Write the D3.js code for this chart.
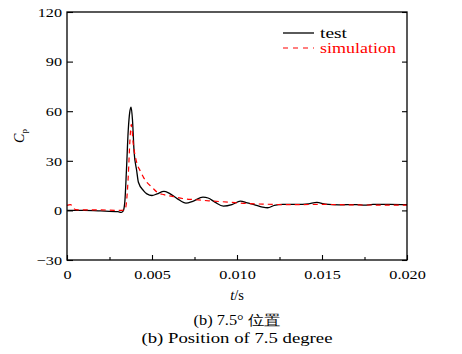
<!DOCTYPE html>
<html>

<head>
  <meta charset='utf-8'>
  <style>
    body { margin: 0; background: #fff; }
    text { font-family: "Liberation Serif", serif; }
  </style>
  <script src='https://cdn.jsdelivr.net/npm/d3@7'></script>
</head>

<body>

  <script>
    // values (t in s, Cp)
    const testT = [0, 0.001, 0.002, 0.003, 0.0032, 0.0033, 0.0034, 0.0035, 0.0036, 0.0037, 0.00377, 0.00385, 0.00395,
      0.0041, 0.0042, 0.0045, 0.0047, 0.005, 0.0053, 0.0057, 0.006, 0.0065, 0.007, 0.0074, 0.008, 0.0083, 0.0087,
      0.0092, 0.0097, 0.0102, 0.0106, 0.011, 0.0115, 0.0118, 0.0122, 0.0127, 0.0135, 0.0142, 0.0147, 0.0152,
      0.016, 0.017, 0.0175, 0.018, 0.019, 0.02]
    const testCp = [0, 0, -0.3, -0.8, -1.2, -0.5, 5, 25, 48, 60, 62.5, 55, 35,
      24, 17, 12, 10, 9, 10, 11.5, 10.5, 7, 4.4, 5.5, 8, 7.5, 5,
      2.6, 3.5, 5.6, 4.5, 3.5, 2, 1.6, 3, 3.6, 3.6, 4, 4.8, 3.8,
      3.4, 3.5, 3.2, 3.6, 3.7, 3.5]

    const simT = [0, 0.0002, 0.0005, 0.001, 0.002, 0.003, 0.0034, 0.0035, 0.0036, 0.0037, 0.00378, 0.0039, 0.0041,
      0.0043, 0.0045, 0.0047, 0.005, 0.0053, 0.0057, 0.0062, 0.0068, 0.0075, 0.0085, 0.0095, 0.0105, 0.0115,
      0.013, 0.015, 0.017, 0.02]
    const simCp = [3, 3.5, 0.5, 0.3, 0.3, 0, 0.2, 5, 20, 42, 52, 40, 29,
      24, 20, 17, 14, 11, 9.5, 8.5, 7.2, 6.5, 5.7, 5, 4.2, 3.8,
      3.5, 3.6, 3.3, 3.2]

    const xTicks = [0, 0.005, 0.010, 0.015, 0.020]
    const xTickLabels = ["0", "0.005", "0.010", "0.015", "0.020"]
    const xMinor = [0.0025, 0.0075, 0.0125, 0.0175]
    const yTicks = [-30, 0, 30, 60, 90, 120]
    const seriesNames = ["test", "simulation"]

    const width = 462, height = 354
    const margin = { left: 67, right: 55, top: 12, bottom: 94 }

    const svg = d3.select("body").append("svg")
      .attr("width", width)
      .attr("height", height)

    const x = d3.scaleLinear([0, 0.02], [margin.left, width - margin.right])
    const y = d3.scaleLinear([-30, 120], [height - margin.bottom, margin.top])

    const line = d3.line()
      .x(d => x(d[0]))
      .y(d => y(d[1]))
      .curve(d3.curveMonotoneX)

    // widen glyphs a bit, the original font is broad
    function stretch(sel, k) {
      sel.each(function () {
        const w = this.getComputedTextLength()
        d3.select(this).attr("textLength", w * k).attr("lengthAdjust", "spacingAndGlyphs")
      })
    }

    const plot = svg.append("g")

    plot.append("path")
      .datum(d3.zip(testT, testCp))
      .attr("fill", "none")
      .attr("stroke", "#000")
      .attr("stroke-width", 1.3)
      .attr("d", line)

    plot.append("path")
      .datum(d3.zip(simT, simCp))
      .attr("fill", "none")
      .attr("stroke", "#ff0000")
      .attr("stroke-width", 1.2)
      .attr("stroke-dasharray", "5,4")
      .attr("d", line)

    // frame
    svg.append("rect")
      .attr("x", x(0)).attr("y", y(120))
      .attr("width", x(0.02) - x(0)).attr("height", y(-30) - y(120))
      .attr("fill", "none").attr("stroke", "#000").attr("stroke-width", 1.3)

    // axes, ticks inward
    const axes = svg.append("g")
    axes.append("g")
      .attr("transform", `translate(0,${y(-30)})`)
      .call(d3.axisBottom(x).tickValues(xTicks).tickSize(-5).tickPadding(9)
        .tickFormat((d, i) => xTickLabels[i]))
    axes.append("g")
      .attr("transform", `translate(0,${y(-30)})`)
      .call(d3.axisBottom(x).tickValues(xMinor).tickSize(-3).tickFormat(""))
    axes.append("g")
      .attr("transform", `translate(${x(0)},0)`)
      .call(d3.axisLeft(y).tickValues(yTicks).tickSize(-6).tickPadding(5))
    axes.append("g")
      .attr("transform", `translate(${x(0.02)},0)`)
      .call(d3.axisRight(y).tickValues(yTicks).tickSize(-5).tickFormat(""))

    axes.selectAll("g").attr("font-family", "Liberation Serif")
    axes.selectAll(".domain").remove()
    axes.selectAll(".tick line").attr("stroke", "#000").attr("stroke-width", 1.1)
    axes.selectAll(".tick text").attr("fill", "#000").style("font-size", "13.5px")
      .call(stretch, 1.2)

    // axis titles
    const xt = svg.append("text")
      .attr("x", x(0.01)).attr("y", 300)
      .attr("text-anchor", "middle")
      .style("font-size", "14.5px")
    xt.append("tspan").style("font-style", "italic").text("t")
    xt.append("tspan").text("/s")

    const yt = svg.append("text")
      .attr("transform", `translate(24,${y(45)}) rotate(-90)`)
      .attr("text-anchor", "middle")
      .style("font-size", "14px")
    yt.append("tspan").style("font-style", "italic").text("C")
    yt.append("tspan").attr("dy", 3).style("font-size", "9px").text("p")

    // legend
    const legend = svg.append("g")
    const lx0 = 283, lx1 = 314
    legend.append("line").attr("x1", lx0).attr("x2", lx1).attr("y1", 33).attr("y2", 33)
      .attr("stroke", "#000").attr("stroke-width", 1.3)
    legend.append("text").attr("x", 320).attr("y", 37.5).style("font-size", "14.5px")
      .attr("fill", "#000").attr("textLength", 27).attr("lengthAdjust", "spacingAndGlyphs")
      .text(seriesNames[0])
    legend.append("line").attr("x1", lx0).attr("x2", lx1).attr("y1", 48).attr("y2", 48)
      .attr("stroke", "#ff0000").attr("stroke-width", 1.2).attr("stroke-dasharray", "5,5")
    legend.append("text").attr("x", 320).attr("y", 52.5).style("font-size", "14.5px")
      .attr("fill", "#ff0000").attr("textLength", 76).attr("lengthAdjust", "spacingAndGlyphs")
      .text(seriesNames[1])

    // captions
    svg.append("text")
      .attr("x", x(0.01)).attr("y", 325)
      .attr("text-anchor", "middle")
      .style("font-size", "14px")
      .attr("textLength", 87).attr("lengthAdjust", "spacingAndGlyphs")
      .text("(b) 7.5° 位置")
    svg.append("text")
      .attr("x", x(0.01)).attr("y", 343)
      .attr("text-anchor", "middle")
      .style("font-size", "14px")
      .attr("textLength", 191).attr("lengthAdjust", "spacingAndGlyphs")
      .text("(b) Position of 7.5 degree")
  </script>
</body>

</html>
